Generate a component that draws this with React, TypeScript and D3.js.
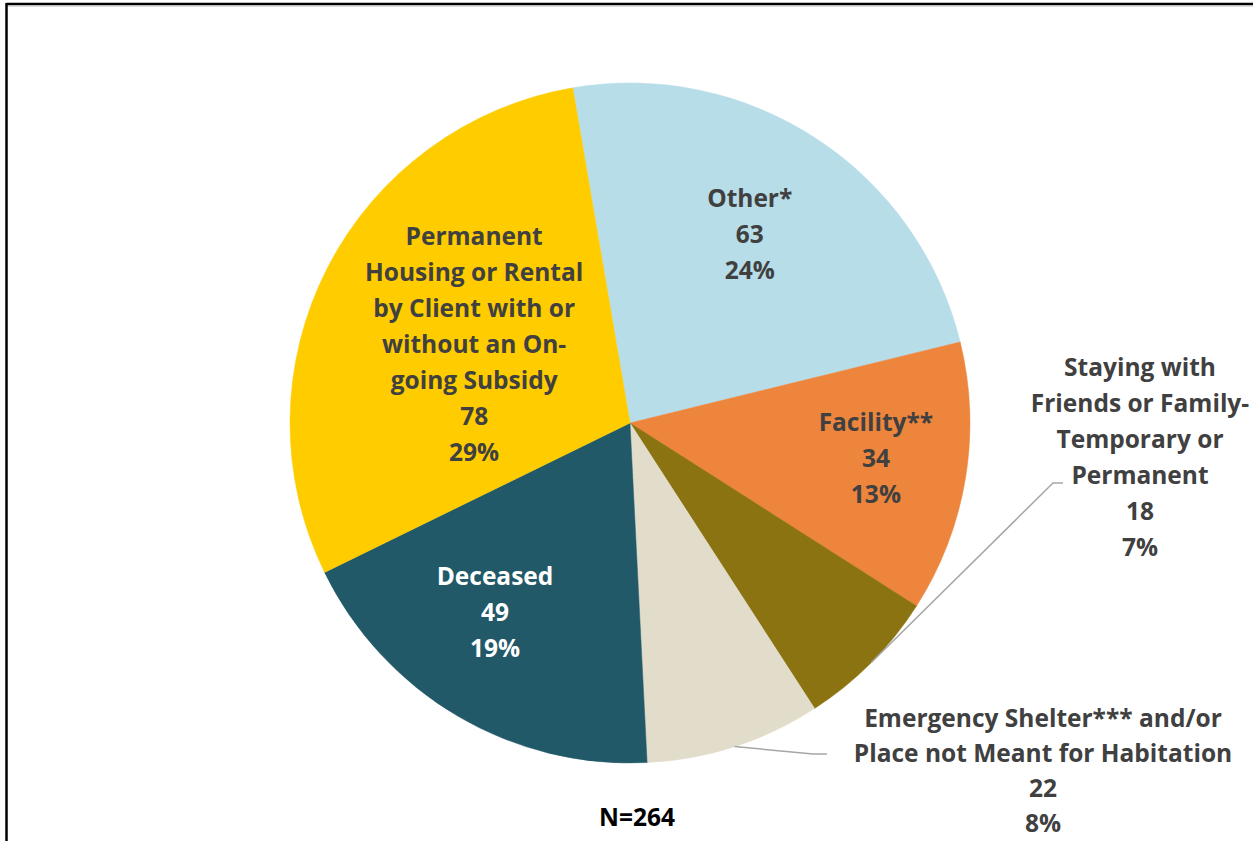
import React from "react";
import * as d3 from "d3";

const categories = [
  "Other*",
  "Facility**",
  "Staying with Friends or Family- Temporary or Permanent",
  "Emergency Shelter*** and/or Place not Meant for Habitation",
  "Deceased",
  "Permanent Housing or Rental by Client with or without an On-going Subsidy",
];
const values = [63, 34, 18, 22, 49, 78];
const percents = ["24%", "13%", "7%", "8%", "19%", "29%"];
const labelLines = [
  ["Other*"],
  ["Facility**"],
  ["Staying with", "Friends or Family-", "Temporary or", "Permanent"],
  ["Emergency Shelter*** and/or", "Place not Meant for Habitation"],
  ["Deceased"],
  ["Permanent", "Housing or Rental", "by Client with or", "without an On-", "going Subsidy"],
];
const colors = ["#B7DDE8", "#EE853D", "#8B7311", "#E2DDCB", "#215968", "#FFCC00"];
const textColors = ["#404040", "#404040", "#404040", "#404040", "#FFFFFF", "#404040"];
const totalLabel = "N=264";

// layout (not data)
const W = 1253, H = 841;
const cx = 630, cy = 423, R = 340;
const startDeg = -9.7;
const labelPos: any[] = [
  { inside: true, rf: 0.66, dAng: -1 },
  { inside: true, rf: 0.73, dAng: -1.6 },
  { inside: false, x: 1140, y: 366, elbow: [1053, 483], end: [1063, 483] },
  { inside: false, x: 1043, y: 717, elbow: [813, 754], end: [827, 754] },
  { inside: true, rf: 0.68, dAng: 5.2 },
  { inside: true, rf: 0.515, dAng: 0 },
];
const LH = 36;
const FS = 24.5;

export default function App() {
  const pie = d3
    .pie<number>()
    .sort(null)
    .value((d) => d)
    .startAngle((startDeg * Math.PI) / 180)
    .endAngle((startDeg * Math.PI) / 180 + 2 * Math.PI);
  const arcs = pie(values);
  const arc = d3.arc<d3.PieArcDatum<number>>().innerRadius(0).outerRadius(R);

  const font = "'Open Sans', Lato, sans-serif";

  return (
    <svg
      width={W}
      height={H}
      style={{ position: "absolute", left: 0, top: 0, background: "#fff" }}
    >
      {/* frame */}
      <line x1={6.5} y1={4} x2={W} y2={4} stroke="#000" strokeWidth={2.5} />
      <line x1={6.5} y1={6} x2={W} y2={6} stroke="#bbb" strokeWidth={1} />
      <line x1={6.5} y1={3} x2={6.5} y2={H} stroke="#000" strokeWidth={2.5} />

      <g transform={`translate(${cx},${cy})`}>
        {arcs.map((a, i) => (
          <path key={i} d={arc(a) || ""} fill={colors[i]} stroke={colors[i]} strokeWidth={0.5} />
        ))}
      </g>

      {arcs.map((a, i) => {
        const p = labelPos[i];
        if (p.inside) return null;
        const mid = (a.startAngle + a.endAngle) / 2;
        const sx = cx + R * Math.sin(mid);
        const sy = cy - R * Math.cos(mid);
        return (
          <polyline
            key={"l" + i}
            points={`${sx},${sy} ${p.elbow[0]},${p.elbow[1]} ${p.end[0]},${p.end[1]}`}
            fill="none"
            stroke="#A6A6A6"
            strokeWidth={1.5}
          />
        );
      })}

      {arcs.map((a, i) => {
        const p = labelPos[i];
        const lines = [...labelLines[i], String(values[i]), percents[i]];
        let x: number, y0: number;
        if (p.inside) {
          const mid = (a.startAngle + a.endAngle) / 2 + (p.dAng * Math.PI) / 180;
          x = cx + R * p.rf * Math.sin(mid);
          const yc = cy - R * p.rf * Math.cos(mid);
          y0 = yc - ((lines.length - 1) * LH) / 2;
        } else {
          x = p.x;
          y0 = p.y;
        }
        const lh = i === 3 ? 35 : LH;
        return (
          <text
            key={"t" + i}
            x={x}
            fill={textColors[i]}
            fontFamily={font}
            fontWeight={700}
            fontSize={FS}
            textAnchor="middle"
            dominantBaseline="central"
          >
            {lines.map((s, j) => (
              <tspan key={j} x={x} y={y0 + j * lh}>
                {s}
              </tspan>
            ))}
          </text>
        );
      })}

      <text
        x={637}
        y={816}
        fill="#000"
        fontFamily={font}
        fontWeight={700}
        fontSize={FS}
        textAnchor="middle"
        dominantBaseline="central"
      >
        {totalLabel}
      </text>
    </svg>
  );
}
